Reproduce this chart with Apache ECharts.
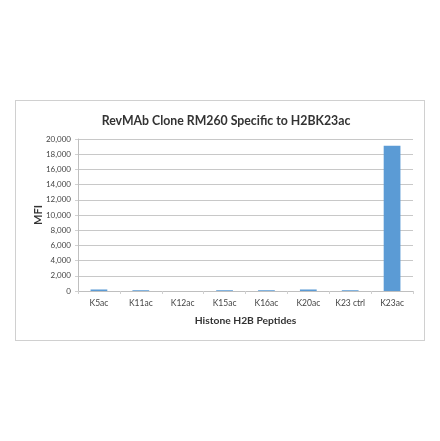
<!DOCTYPE html>
<html><head><meta charset="utf-8">
<script src="https://cdn.jsdelivr.net/npm/echarts@6/dist/echarts.min.js"></script>
<style>
html,body{margin:0;padding:0;background:#fff;}
#frame{position:absolute;left:15px;top:100px;width:410px;height:241px;border:1px solid #d0d0d0;box-sizing:border-box;}
#c{position:absolute;left:0;top:0;width:440px;height:441px;}
</style></head>
<body>
<div id="frame"></div>
<div id="c"></div>
<script>
const titleText = 'RevMAb Clone RM260 Specific to H2BK23ac';
const categories = ['K5ac','K11ac','K12ac','K15ac','K16ac','K20ac','K23 ctrl','K23ac'];
const mfiValues = [200, 100, 0, 100, 100, 200, 100, 19100];
const yTicks = {min:0, max:20000, interval:2000};

const chart = echarts.init(document.getElementById('c'), null, {renderer:'canvas'});
const font = 'Lato, "Liberation Sans", sans-serif';
chart.setOption({
  animation:false,
  title:{text:titleText,left:221,textAlign:'center',top:110,
    textStyle:{fontFamily:font,fontSize:12.3,fontWeight:'bold',color:'#333'}},
  grid:{left:78,right:27,top:139,height:152,containLabel:false},
  xAxis:{type:'category',data:categories,
    name:'Histone H2B Peptides',nameLocation:'middle',nameGap:25,nameMoveOverlap:false,
    nameTextStyle:{fontFamily:font,fontSize:10.3,fontWeight:'bold',color:'#333'},
    axisLine:{lineStyle:{color:'#bfbfbf'}},
    axisTick:{show:true,alignWithLabel:false,length:3,lineStyle:{color:'#d0d0d0'}},
    axisLabel:{fontFamily:font,fontSize:8.5,color:'#444',margin:8}},
  yAxis:{type:'value',min:yTicks.min,max:yTicks.max,interval:yTicks.interval,
    name:'MFI',nameLocation:'middle',nameGap:34,nameRotate:90,nameMoveOverlap:false,
    nameTextStyle:{fontFamily:font,fontSize:11,fontWeight:'bold',color:'#333'},
    axisLine:{show:true,lineStyle:{color:'#bfbfbf'}},
    axisTick:{show:true,length:3,lineStyle:{color:'#d0d0d0'}},
    splitLine:{lineStyle:{color:'#c8c8c8'}},
    axisLabel:{fontFamily:font,fontSize:8,color:'#444',margin:7}},
  series:[{type:'bar',data:mfiValues,barCategoryGap:'60%',
    itemStyle:{color:'#5b9bd5'}}]
});
</script>
</body></html>
